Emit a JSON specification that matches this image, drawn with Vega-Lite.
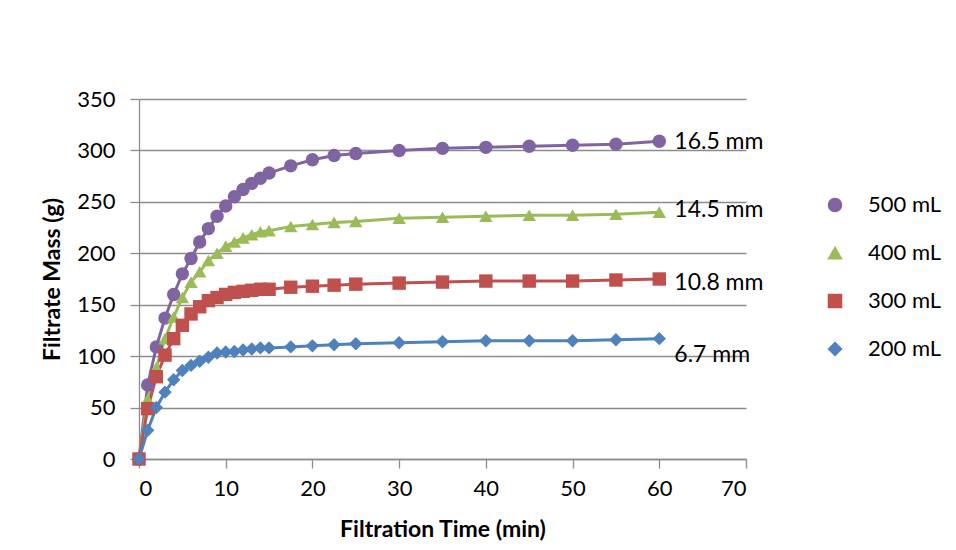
{
  "$schema": "https://vega.github.io/schema/vega-lite/v6.json",
  "width": 607,
  "height": 360,
  "autosize": {"type": "none"},
  "padding": {"left": 139, "top": 99, "right": 210, "bottom": 91},
  "background": "white",
  "config": {
    "font": "Lato",
    "view": {"stroke": null},
    "axis": {
      "domainColor": "#8C8C8C",
      "tickColor": "#8C8C8C",
      "gridColor": "#8C8C8C",
      "gridOpacity": 1,
      "domainWidth": 1.3,
      "tickWidth": 1.3,
      "gridWidth": 1.3,
      "tickSize": 9,
      "labelFontSize": 22,
      "labelColor": "black",
      "labelFont": "Lato",
      "titleFont": "Lato",
      "titleFontSize": 23,
      "titleFontWeight": "bold",
      "titleColor": "black"
    },
    "legend": {
      "title": null, "orient": "none", "legendX": 685, "legendY": 95,
      "symbolSize": 170, "symbolOpacity": 1,
      "labelFontSize": 22, "labelFont": "Lato", "labelColor": "black", "labelOffset": 22,
      "rowPadding": 26, "padding": 0
    }
  },
  "datasets": {
    "pts": [
      {"series": "500 mL", "t": 0, "mass": 0},
      {"series": "500 mL", "t": 1, "mass": 72},
      {"series": "500 mL", "t": 2, "mass": 109},
      {"series": "500 mL", "t": 3, "mass": 137},
      {"series": "500 mL", "t": 4, "mass": 160},
      {"series": "500 mL", "t": 5, "mass": 180},
      {"series": "500 mL", "t": 6, "mass": 195},
      {"series": "500 mL", "t": 7, "mass": 211},
      {"series": "500 mL", "t": 8, "mass": 224},
      {"series": "500 mL", "t": 9, "mass": 236},
      {"series": "500 mL", "t": 10, "mass": 246},
      {"series": "500 mL", "t": 11, "mass": 255},
      {"series": "500 mL", "t": 12, "mass": 262},
      {"series": "500 mL", "t": 13, "mass": 268},
      {"series": "500 mL", "t": 14, "mass": 273},
      {"series": "500 mL", "t": 15, "mass": 278},
      {"series": "500 mL", "t": 17.5, "mass": 285},
      {"series": "500 mL", "t": 20, "mass": 291},
      {"series": "500 mL", "t": 22.5, "mass": 295},
      {"series": "500 mL", "t": 25, "mass": 297},
      {"series": "500 mL", "t": 30, "mass": 300},
      {"series": "500 mL", "t": 35, "mass": 302},
      {"series": "500 mL", "t": 40, "mass": 303},
      {"series": "500 mL", "t": 45, "mass": 304},
      {"series": "500 mL", "t": 50, "mass": 305},
      {"series": "500 mL", "t": 55, "mass": 306},
      {"series": "500 mL", "t": 60, "mass": 309},
      {"series": "400 mL", "t": 0, "mass": 0},
      {"series": "400 mL", "t": 1, "mass": 58},
      {"series": "400 mL", "t": 2, "mass": 89},
      {"series": "400 mL", "t": 3, "mass": 117},
      {"series": "400 mL", "t": 4, "mass": 138},
      {"series": "400 mL", "t": 5, "mass": 157},
      {"series": "400 mL", "t": 6, "mass": 172},
      {"series": "400 mL", "t": 7, "mass": 182},
      {"series": "400 mL", "t": 8, "mass": 193},
      {"series": "400 mL", "t": 9, "mass": 200},
      {"series": "400 mL", "t": 10, "mass": 207},
      {"series": "400 mL", "t": 11, "mass": 211},
      {"series": "400 mL", "t": 12, "mass": 215},
      {"series": "400 mL", "t": 13, "mass": 218},
      {"series": "400 mL", "t": 14, "mass": 221},
      {"series": "400 mL", "t": 15, "mass": 222},
      {"series": "400 mL", "t": 17.5, "mass": 226},
      {"series": "400 mL", "t": 20, "mass": 228},
      {"series": "400 mL", "t": 22.5, "mass": 230},
      {"series": "400 mL", "t": 25, "mass": 231},
      {"series": "400 mL", "t": 30, "mass": 234},
      {"series": "400 mL", "t": 35, "mass": 235},
      {"series": "400 mL", "t": 40, "mass": 236},
      {"series": "400 mL", "t": 45, "mass": 237},
      {"series": "400 mL", "t": 50, "mass": 237},
      {"series": "400 mL", "t": 55, "mass": 238},
      {"series": "400 mL", "t": 60, "mass": 240},
      {"series": "300 mL", "t": 0, "mass": 0},
      {"series": "300 mL", "t": 1, "mass": 49},
      {"series": "300 mL", "t": 2, "mass": 80},
      {"series": "300 mL", "t": 3, "mass": 101},
      {"series": "300 mL", "t": 4, "mass": 117},
      {"series": "300 mL", "t": 5, "mass": 130},
      {"series": "300 mL", "t": 6, "mass": 141},
      {"series": "300 mL", "t": 7, "mass": 148},
      {"series": "300 mL", "t": 8, "mass": 154},
      {"series": "300 mL", "t": 9, "mass": 157},
      {"series": "300 mL", "t": 10, "mass": 160},
      {"series": "300 mL", "t": 11, "mass": 162},
      {"series": "300 mL", "t": 12, "mass": 163},
      {"series": "300 mL", "t": 13, "mass": 164},
      {"series": "300 mL", "t": 14, "mass": 165},
      {"series": "300 mL", "t": 15, "mass": 165},
      {"series": "300 mL", "t": 17.5, "mass": 167},
      {"series": "300 mL", "t": 20, "mass": 168},
      {"series": "300 mL", "t": 22.5, "mass": 169},
      {"series": "300 mL", "t": 25, "mass": 170},
      {"series": "300 mL", "t": 30, "mass": 171},
      {"series": "300 mL", "t": 35, "mass": 172},
      {"series": "300 mL", "t": 40, "mass": 173},
      {"series": "300 mL", "t": 45, "mass": 173},
      {"series": "300 mL", "t": 50, "mass": 173},
      {"series": "300 mL", "t": 55, "mass": 174},
      {"series": "300 mL", "t": 60, "mass": 175},
      {"series": "200 mL", "t": 0, "mass": 0},
      {"series": "200 mL", "t": 1, "mass": 28},
      {"series": "200 mL", "t": 2, "mass": 50},
      {"series": "200 mL", "t": 3, "mass": 65},
      {"series": "200 mL", "t": 4, "mass": 77},
      {"series": "200 mL", "t": 5, "mass": 86},
      {"series": "200 mL", "t": 6, "mass": 91},
      {"series": "200 mL", "t": 7, "mass": 95},
      {"series": "200 mL", "t": 8, "mass": 99},
      {"series": "200 mL", "t": 9, "mass": 103},
      {"series": "200 mL", "t": 10, "mass": 104},
      {"series": "200 mL", "t": 11, "mass": 104.5},
      {"series": "200 mL", "t": 12, "mass": 106},
      {"series": "200 mL", "t": 13, "mass": 107},
      {"series": "200 mL", "t": 14, "mass": 108},
      {"series": "200 mL", "t": 15, "mass": 108},
      {"series": "200 mL", "t": 17.5, "mass": 109},
      {"series": "200 mL", "t": 20, "mass": 110},
      {"series": "200 mL", "t": 22.5, "mass": 111},
      {"series": "200 mL", "t": 25, "mass": 112},
      {"series": "200 mL", "t": 30, "mass": 113},
      {"series": "200 mL", "t": 35, "mass": 114},
      {"series": "200 mL", "t": 40, "mass": 115},
      {"series": "200 mL", "t": 45, "mass": 115},
      {"series": "200 mL", "t": 50, "mass": 115},
      {"series": "200 mL", "t": 55, "mass": 116},
      {"series": "200 mL", "t": 60, "mass": 117}
    ],
    "labels": [
      {"t": 60, "mass": 308.5, "label": "16.5 mm"},
      {"t": 60, "mass": 241.6, "label": "14.5 mm"},
      {"t": 60, "mass": 170.8, "label": "10.8 mm"},
      {"t": 60, "mass": 101, "label": "6.7 mm"}
    ]
  },
  "layer": [
    {
      "data": {"name": "pts"},
      "mark": {"type": "line", "strokeWidth": 3},
      "encoding": {
        "x": {"field": "t", "type": "quantitative", "scale": {"domain": [0, 70], "nice": false},
          "axis": {"title": "Filtration Time (min)", "values": [0, 10, 20, 30, 40, 50, 60, 70], "grid": false, "labelPadding": 10, "titlePadding": 19}},
        "y": {"field": "mass", "type": "quantitative", "scale": {"domain": [0, 350], "nice": false},
          "axis": {"title": "Filtrate Mass (g)", "values": [0, 50, 100, 150, 200, 250, 300, 350], "grid": true, "labelPadding": 15, "titlePadding": 12}},
        "color": {"field": "series", "type": "nominal",
          "scale": {"domain": ["500 mL", "400 mL", "300 mL", "200 mL"], "range": ["#8064A2", "#9BBB59", "#C0504D", "#4F81BD"]}},
        "order": {"field": "t", "type": "quantitative"}
      }
    },
    {
      "data": {"name": "pts"},
      "mark": {"type": "point", "filled": true, "opacity": 1, "size": 180},
      "encoding": {
        "x": {"field": "t", "type": "quantitative"},
        "y": {"field": "mass", "type": "quantitative"},
        "color": {"field": "series", "type": "nominal"},
        "shape": {"field": "series", "type": "nominal",
          "scale": {"domain": ["500 mL", "400 mL", "300 mL", "200 mL"], "range": ["circle", "triangle-up", "square", "diamond"]}}
      }
    },
    {
      "data": {"name": "labels"},
      "mark": {"type": "text", "align": "left", "baseline": "middle", "dx": 15, "fontSize": 23, "font": "Lato", "color": "black"},
      "encoding": {
        "x": {"field": "t", "type": "quantitative"},
        "y": {"field": "mass", "type": "quantitative"},
        "text": {"field": "label", "type": "nominal"}
      }
    }
  ]
}
